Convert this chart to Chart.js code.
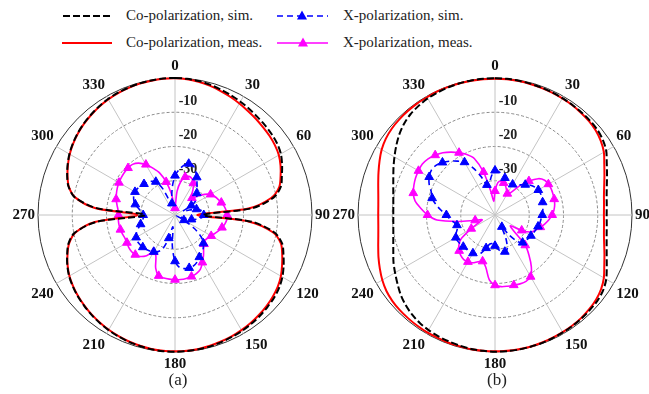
<!DOCTYPE html>
<html>
<head>
<meta charset="utf-8">
<script src="https://cdn.jsdelivr.net/npm/chart.js@4.4.0/dist/chart.umd.min.js"></script>
<style>
  html, body { margin: 0; padding: 0; background: #fff; }
  body { width: 649px; height: 394px; position: relative; overflow: hidden;
         font-family: "Liberation Serif", "Times New Roman", serif; color: #222; }
  .plot { position: absolute; top: 57px; width: 370px; height: 316px; }
  .leg { position: absolute; font-size: 15px; line-height: 18px; white-space: nowrap; }
  .cap { position: absolute; top: 370px; font-size: 17px; line-height: 20px; width: 40px; text-align: center; }
  #keys { position: absolute; left: 0; top: 0; }
</style>
</head>
<body>
<svg id="keys" width="649" height="60">
  <line x1="63" y1="16" x2="111" y2="16" stroke="#000" stroke-width="2" stroke-dasharray="7 3"/>
  <line x1="277" y1="16" x2="328" y2="16" stroke="#0000ff" stroke-width="1.6" stroke-dasharray="6 4"/>
  <polygon points="302,10.5 297,19.5 307,19.5" fill="#0000ff"/>
  <line x1="62" y1="43" x2="112" y2="43" stroke="#ff0000" stroke-width="2"/>
  <line x1="277" y1="43" x2="328" y2="43" stroke="#ff00ff" stroke-width="1.6"/>
  <polygon points="303,37.5 298,46.5 308,46.5" fill="#ff00ff"/>
</svg>
<div class="leg" style="left:126px; top:6px;">Co-polarization, sim.</div>
<div class="leg" style="left:343px; top:6px;">X-polarization, sim.</div>
<div class="leg" style="left:126px; top:33px;">Co-polarization, meas.</div>
<div class="leg" style="left:343px; top:33px;">X-polarization, meas.</div>

<div class="plot" style="left:-10px;"><canvas id="chartA" width="370" height="316"></canvas></div>
<div class="plot" style="left:310px;"><canvas id="chartB" width="370" height="316"></canvas></div>

<div class="cap" style="left:158px;">(a)</div>
<div class="cap" style="left:477px;">(b)</div>

<script>
// angle in degrees, every 5 deg (labels shown every 30 deg)
const angles = [0,5,10,15,20,25,30,35,40,45,50,55,60,65,70,75,80,85,
  90,95,100,105,110,115,120,125,130,135,140,145,150,155,160,165,170,175,
  180,185,190,195,200,205,210,215,220,225,230,235,240,245,250,255,260,265,
  270,275,280,285,290,295,300,305,310,315,320,325,330,335,340,345,350,355];
const dbTicks = [-10, -20, -30];

// (a) normalized gain, dB
const coSimA = [0,-0.1,-0.3,-0.6,-1.0,-1.4,-1.8,-2.2,-2.6,-2.9,-3.2,-3.6,
  -4.3,-5.5,-6.8,-8.0,-10.8,-17.5,
  -31.8,-17.5,-10.5,-7.6,-6.3,-5.0,
  -3.8,-2.9,-2.3,-1.9,-1.5,-1.2,
  -0.9,-0.7,-0.5,-0.3,-0.2,-0.1,
  -0.1,-0.1,-0.2,-0.4,-0.6,-0.9,
  -1.2,-1.6,-2.0,-2.5,-3.0,-3.6,
  -4.3,-5.3,-6.5,-7.8,-10.3,-17,
  -31.2,-17,-10.3,-7.8,-6.5,-5.4,
  -4.4,-3.6,-2.9,-2.3,-1.8,-1.3,
  -0.9,-0.6,-0.4,-0.2,-0.1,0];
const coMeasA = [-0.1,-0.2,-0.5,-0.9,-1.4,-1.9,-2.4,-2.9,-3.3,-3.7,-4.0,-4.4,
  -5.0,-6.0,-7.2,-8.5,-11.5,-18.5,
  -33.5,-18.5,-11,-8.0,-6.7,-5.5,
  -4.3,-3.4,-2.8,-2.3,-1.9,-1.5,
  -1.2,-0.9,-0.7,-0.5,-0.3,-0.2,
  -0.2,-0.2,-0.3,-0.5,-0.7,-1.0,
  -1.3,-1.7,-2.1,-2.6,-3.1,-3.7,
  -4.4,-5.4,-6.6,-8.0,-10.5,-16.5,
  -29,-16.5,-10.4,-7.9,-6.6,-5.5,
  -4.5,-3.7,-3.0,-2.4,-1.9,-1.4,
  -1.0,-0.7,-0.5,-0.3,-0.2,-0.1];
const xSimA = [-28.5,-26.8,-25.3,-24.5,-24.6,-25.8,
  -27.3,-28.8,-30,-31,-31.7,-32.5,
  -34.5,-37.5,-36,-33.5,-32.2,-31.7,
  -31.6,-32,-33.2,-35,-38,-39.5,
  -37,-33,-30,-28.3,-27.2,-26.5,
  -25.8,-24.8,-24.2,-24,-24.1,-24.6,
  -26.5,-31,-36.5,-33,-29.5,-28.2,
  -27.6,-27.2,-26.9,-26.7,-26.6,-26.6,
  -26.9,-27.6,-28.6,-29.6,-30.3,-30.7,
  -30.7,-30.2,-29.2,-28,-27.2,-26.7,
  -26.5,-26.6,-26.9,-27.2,-27.6,-28,
  -28.8,-31.5,-36,-36.5,-34.5,-31.5];
const xMeasA = [-38,-33,-30,-28.5,-28,-28.3,
  -29.3,-30.8,-32.5,-33,-31.5,-29.5,
  -28,-27.2,-26.6,-26,-25.4,-25,
  -24.8,-24.8,-25.2,-25.8,-26.5,-27.2,
  -27.8,-28.3,-28.5,-28,-27,-25.5,
  -24,-22.5,-21.8,-21.4,-21.2,-21.1,
  -21.1,-21.2,-21.3,-21.6,-23.5,-26.8,
  -27.5,-25.5,-24.2,-23.6,-23.4,-23.5,
  -23.8,-23.9,-23.7,-23.5,-23.4,-23.4,
  -23.5,-23.3,-22.8,-22.2,-21.8,-21.4,
  -21.1,-20.9,-20.7,-20.6,-20.7,-21.5,
  -23,-25,-27,-30,-33.5,-37];

// (b) normalized gain, dB
const coSimB = [-0.1,-0.1,-0.2,-0.3,-0.4,-0.5,-0.6,-0.7,-0.8,-0.9,-1.1,-1.6,
  -2.5,-4.0,-5.2,-6.2,-6.9,-7.25,
  -7.4,-7.25,-6.9,-6.25,-5.3,-4.0,
  -2.5,-1.5,-1.0,-0.8,-0.6,-0.5,
  -0.4,-0.3,-0.2,-0.2,-0.1,-0.1,
  -0.1,-0.2,-0.3,-0.5,-0.7,-0.9,
  -1.2,-1.6,-2.2,-3.0,-4.0,-5.2,
  -6.3,-7.3,-8.4,-9.25,-9.85,-10.2,
  -10.3,-10.2,-9.85,-9.25,-8.4,-7.3,
  -6.1,-4.8,-3.5,-2.4,-1.6,-1.1,
  -0.7,-0.5,-0.3,-0.2,-0.1,-0.1];
const coMeasB = [-0.2,-0.2,-0.3,-0.4,-0.5,-0.6,-0.7,-0.8,-1.0,-1.2,-1.6,-2.3,
  -3.3,-4.8,-6.0,-7.0,-7.7,-8.05,
  -8.2,-8.05,-7.7,-7.0,-6.0,-4.8,
  -3.3,-2.2,-1.5,-1.1,-0.8,-0.6,
  -0.5,-0.4,-0.3,-0.2,-0.2,-0.2,
  -0.2,-0.2,-0.2,-0.3,-0.3,-0.4,
  -0.4,-0.5,-0.6,-0.7,-0.9,-1.3,
  -2.0,-2.9,-3.8,-4.7,-5.4,-5.8,
  -5.9,-5.8,-5.4,-4.7,-3.8,-2.8,
  -1.8,-1.1,-0.7,-0.5,-0.4,-0.3,
  -0.3,-0.2,-0.2,-0.2,-0.2,-0.2];
const xSimB = [-27,-27.3,-28,-28.8,-29.5,-29.8,
  -29.7,-29.3,-28.5,-27.5,-26.5,-25.8,
  -25.4,-25.3,-25.4,-25.6,-25.8,-26,
  -26.2,-26.5,-26.7,-27,-27.3,-27.6,
  -27.9,-28.1,-28.3,-28.6,-30,-33,
  -36,-32.5,-29.5,-28.9,-29.2,-30,
  -31,-31.6,-31.4,-30,-28.2,-27.4,
  -27.1,-27,-27,-26.9,-26.8,-26.7,
  -26.8,-27.5,-28.3,-28.5,-27.8,-26.8,
  -25.8,-24.2,-22.5,-21,-20.2,-18.8,
  -17.8,-17.3,-17.5,-18.3,-19.5,-20.8,
  -22.2,-24.8,-28,-30.9,-30.5,-28.5];
const xMeasB = [-33,-30.5,-30,-30.3,-31,-32,
  -32.8,-32,-29,-26,-23.5,-22.3,
  -22,-21.9,-22,-22.1,-22.3,-22.7,
  -23.3,-24.2,-25.2,-26.3,-27.3,-28.3,
  -31,-34.5,-33,-27.5,-24.5,-21.5,
  -19.2,-18.6,-18.6,-18.8,-18.9,-19,
  -19.5,-21,-24.5,-26,-25.5,-24.6,
  -24.2,-24.1,-24.5,-25.2,-26.2,-28,
  -32,-35,-36,-34,-29,-23,
  -20.3,-18.3,-16.3,-15.3,-14.8,-14.4,
  -14.2,-14.1,-14.5,-15.3,-16.3,-17.6,
  -19,-20.5,-22.5,-27,-33,-36];

// radial dB labels drawn just above each dashed circle, right of the 0 deg line
const dbLabelPlugin = {
  id: 'dbLabels',
  beforeDatasetsDraw(chart) {
    const s = chart.scales.r;
    const ctx = chart.ctx;
    ctx.save();
    ctx.font = 'bold 14px "Liberation Serif"';
    ctx.fillStyle = '#222';
    ctx.textAlign = 'center';
    ctx.textBaseline = 'middle';
    dbTicks.forEach(v => {
      const d = s.getDistanceFromCenterForValue(v);
      ctx.fillText(String(v), s.xCenter + 13, s.yCenter - d - 11);
    });
    ctx.restore();
  }
};

function makeChart(id, coSim, coMeas, xSim, xMeas) {
  const marker = ctx => (ctx.dataIndex % 3 === 0 ? 5 : 0);
  return new Chart(document.getElementById(id), {
    type: 'radar',
    data: {
      labels: angles,
      datasets: [
        { label: 'Co-polarization, sim.', data: coSim, borderColor: '#000', borderWidth: 2,
          borderDash: [7, 3], pointRadius: 0, fill: false, tension: 0.3 },
        { label: 'X-polarization, sim.', data: xSim, borderColor: '#0000ff', borderWidth: 1.6,
          borderDash: [6, 4], pointStyle: 'triangle', pointRadius: marker,
          pointBackgroundColor: '#0000ff', pointBorderColor: '#0000ff', pointBorderWidth: 1,
          fill: false, tension: 0.3 },
        { label: 'Co-polarization, meas.', data: coMeas, borderColor: '#ff0000', borderWidth: 2,
          pointRadius: 0, fill: false, tension: 0.3 },
        { label: 'X-polarization, meas.', data: xMeas, borderColor: '#ff00ff', borderWidth: 1.6,
          pointStyle: 'triangle', pointRadius: marker,
          pointBackgroundColor: '#ff00ff', pointBorderColor: '#ff00ff', pointBorderWidth: 1,
          fill: false, tension: 0.3 }
      ]
    },
    options: {
      responsive: false,
      animation: false,
      devicePixelRatio: 1,
      layout: { padding: 0 },
      plugins: { legend: { display: false }, tooltip: { enabled: false } },
      scales: {
        r: {
          min: -40,
          max: 0,
          ticks: { display: false, stepSize: 10 },
          grid: {
            circular: true,
            color: ctx => (ctx.tick && ctx.tick.value === 0 ? '#333' : '#8a8a8a'),
            lineWidth: 1
          },
          border: { dash: ctx => (ctx.tick && ctx.tick.value === 0 ? [] : [3, 2]) },
          angleLines: {
            color: '#c4c4c4',
            lineWidth: ctx => (ctx.index % 6 === 0 ? 1 : 0)
          },
          pointLabels: {
            padding: 3,
            color: '#111',
            font: { family: 'Liberation Serif', size: 15, weight: 'bold' },
            callback: (label, i) => (i % 6 === 0 ? String(label) : '')
          }
        }
      }
    },
    plugins: [dbLabelPlugin]
  });
}

makeChart('chartA', coSimA, coMeasA, xSimA, xMeasA);
makeChart('chartB', coSimB, coMeasB, xSimB, xMeasB);
</script>
</body>
</html>
